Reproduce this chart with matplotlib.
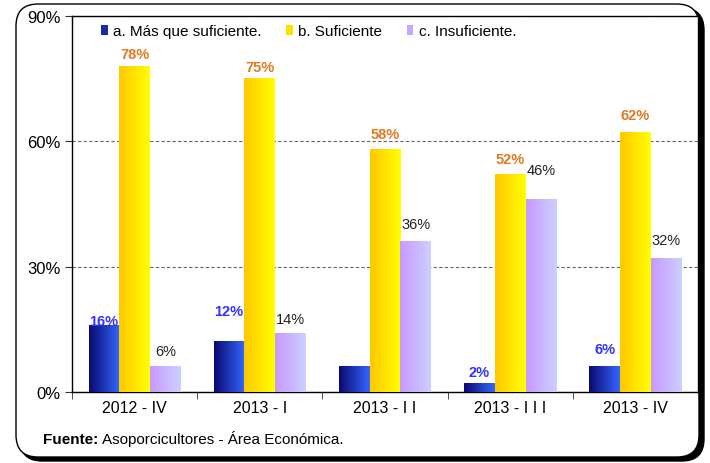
import matplotlib
matplotlib.use("Agg")
import matplotlib.pyplot as plt
import numpy as np
from matplotlib.colors import LinearSegmentedColormap
from matplotlib.patches import FancyBboxPatch, Rectangle

plt.rcParams['font.family'] = ['Liberation Sans', 'DejaVu Sans']

periods = ["2012 - IV", "2013 - I", "2013 - I I", "2013 - I I I", "2013 - IV"]
series_names = ["a. Más que suficiente.", "b. Suficiente", "c. Insuficiente."]
mas_que = [16, 12, 6, 2, 6]
suficiente = [78, 75, 58, 52, 62]
insuficiente = [6, 14, 36, 46, 32]
# which labels the original shows (blue 2013-II has none)
show_label = [[True, True, False, True, True],
              [True] * 5,
              [True] * 5]
label_dy = [[1.0, 7.4, 0, 2.8, 4.3],
            [3.0, 2.8, 3.7, 3.8, 4.3],
            [3.8, 3.5, 4.2, 7.1, 4.4]]

grad_colors = [("#0a0a70", "#3366ff"), ("#ffc800", "#ffff00"), ("#c899ff", "#ccd0ff")]
legend_colors = ["#1a2aa8", "#ffe000", "#c8a8ff"]
label_colors = ["#3333ff", "#e07a20", "#222222"]
label_weights = ["bold", "bold", "normal"]

W, H = 710, 464
fig = plt.figure(figsize=(W / 100, H / 100), dpi=100)

# rounded frame with shadow (display coords)
shadow = FancyBboxPatch((20, 2), 684, 453, boxstyle="round,pad=0,rounding_size=22",
                        transform=None, facecolor="black", edgecolor="black", zorder=0)
frame = FancyBboxPatch((16, 6), 683, 453, boxstyle="round,pad=0,rounding_size=22",
                       transform=None, facecolor="white", edgecolor="black", lw=1.0, zorder=1)
fig.patches.extend([shadow, frame])

ax = fig.add_axes([72 / W, 1 - 393 / H, (698 - 72) / W, (393 - 17) / H])
ax.set_zorder(2)

values = [mas_que, suficiente, insuficiente]
x = np.arange(len(periods))
bw = 0.245
grad = np.linspace(0, 1, 64).reshape(1, -1)

for s, vals in enumerate(values):
    cmap = LinearSegmentedColormap.from_list("g%d" % s, grad_colors[s])
    for i, v in enumerate(vals):
        x0 = x[i] + (s - 1) * bw - bw / 2
        ax.imshow(grad, extent=[x0, x0 + bw, 0, v], aspect="auto", cmap=cmap,
                  interpolation="bilinear", zorder=3)
        if show_label[s][i]:
            ax.text(x0 + bw / 2, v + label_dy[s][i], "%d%%" % v, ha="center", va="center",
                    fontsize=10.5, color=label_colors[s], fontweight=label_weights[s], zorder=4)
    ax.add_patch(Rectangle((0, 0), 0, 0, facecolor=legend_colors[s], label=series_names[s]))

ax.set_xlim(-0.5, len(periods) - 0.5)
ax.set_ylim(0, 90)
ax.set_yticks([0, 30, 60, 90])
ax.set_yticklabels(["0%", "30%", "60%", "90%"], fontsize=12)
ax.set_xticks(x)
ax.set_xticklabels(periods, fontsize=11.5)
ax.tick_params(axis="x", length=0, pad=6)
ax.set_xticks(np.arange(-0.5, len(periods)), minor=True)
ax.tick_params(axis="x", which="minor", length=5, direction="out", color="#333333")
ax.tick_params(axis="y", length=5, direction="out", color="#333333", pad=3)
ax.yaxis.grid(True, linestyle=(0, (3, 2)), color="#666666", lw=0.8)
ax.set_axisbelow(True)
for sp in ax.spines.values():
    sp.set_color("black")
    sp.set_linewidth(1.0)

ax.legend(loc="upper left", bbox_to_anchor=(0.024, 1.015), ncol=3, frameon=False,
          fontsize=11, handlelength=0.45, handleheight=0.65, handletextpad=0.35,
          columnspacing=1.6)

fig.text(43 / W, 1 - 444 / H, "Fuente:", fontsize=11, fontweight="bold", va="baseline")
fig.text(102 / W, 1 - 444 / H, "Asoporcicultores - Área Económica.", fontsize=11, va="baseline")

fig.savefig("out.png", dpi=100)
